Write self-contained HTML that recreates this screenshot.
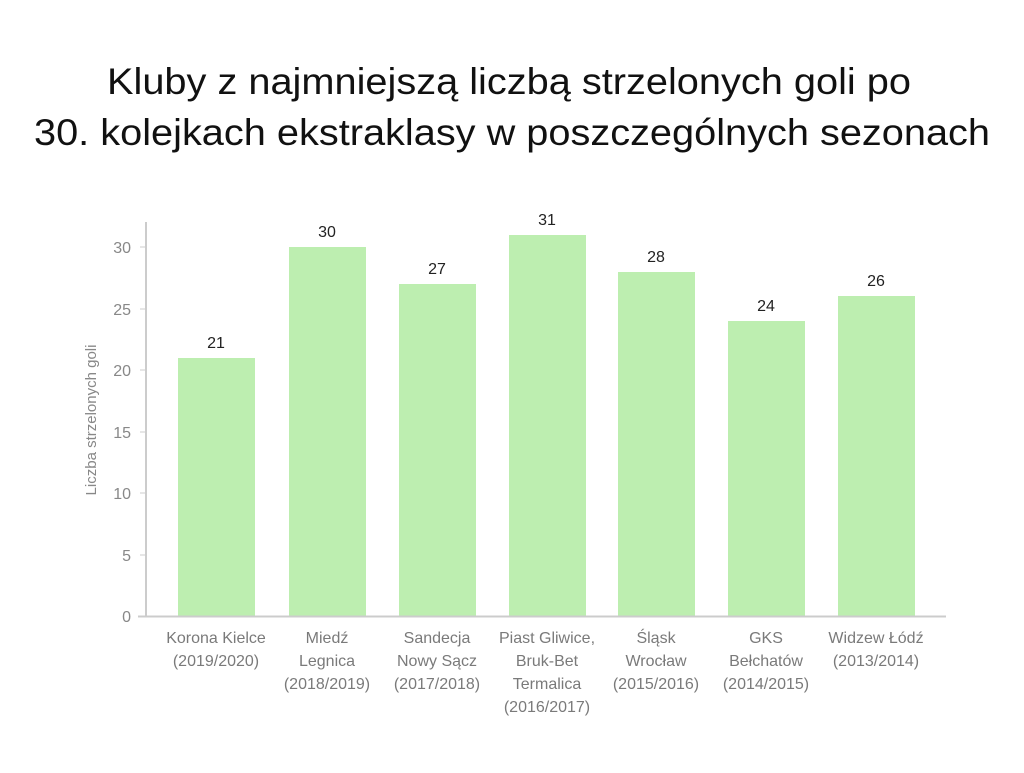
<!DOCTYPE html>
<html><head><meta charset="utf-8"><style>
body{margin:0;background:#fff;width:1024px;height:768px;overflow:hidden;font-family:"Liberation Sans",sans-serif}
</style></head><body>
<svg width="1024" height="768" xmlns="http://www.w3.org/2000/svg" font-family="Liberation Sans, sans-serif">
<text x="509" y="94" font-size="37" text-anchor="middle" fill="#111" textLength="804" lengthAdjust="spacingAndGlyphs">Kluby z najmniejszą liczbą strzelonych goli po</text>
<text x="512" y="145" font-size="37" text-anchor="middle" fill="#111" textLength="956" lengthAdjust="spacingAndGlyphs">30. kolejkach ekstraklasy w poszczególnych sezonach</text>
<g font-size="16" fill="#888" text-anchor="end">
<text x="131" y="622">0</text><text x="131" y="561">5</text><text x="131" y="499">10</text>
<text x="131" y="438">15</text><text x="131" y="376">20</text><text x="131" y="315">25</text><text x="131" y="253">30</text>
</g>
<g stroke="#ccc" stroke-width="1"><line x1="140" y1="616" x2="146" y2="616"/><line x1="140" y1="555" x2="146" y2="555"/><line x1="140" y1="493" x2="146" y2="493"/><line x1="140" y1="432" x2="146" y2="432"/><line x1="140" y1="370" x2="146" y2="370"/><line x1="140" y1="309" x2="146" y2="309"/><line x1="140" y1="247" x2="146" y2="247"/></g>
<text transform="translate(96,420) rotate(-90)" font-size="15" fill="#888" text-anchor="middle">Liczba strzelonych goli</text>
<g fill="#bdeeb0">
<rect x="178" y="358" width="77" height="258"/>
<rect x="289" y="247" width="77" height="369"/>
<rect x="399" y="284" width="77" height="332"/>
<rect x="509" y="235" width="77" height="381"/>
<rect x="618" y="272" width="77" height="344"/>
<rect x="728" y="321" width="77" height="295"/>
<rect x="838" y="296" width="77" height="320"/>
</g>
<line x1="146" y1="222" x2="146" y2="617" stroke="#ccc" stroke-width="2"/>
<line x1="138" y1="616.5" x2="946" y2="616.5" stroke="#ccc" stroke-width="2"/>
<g font-size="16" fill="#222" text-anchor="middle">
<text x="216" y="348">21</text><text x="327" y="237">30</text><text x="437" y="274">27</text><text x="547" y="225">31</text><text x="656" y="262">28</text><text x="766" y="311">24</text><text x="876" y="286">26</text>
</g>
<g font-size="16" fill="#7a7a7a" text-anchor="middle">
<text x="216" y="643">Korona Kielce</text><text x="216" y="666">(2019/2020)</text>
<text x="327" y="643">Miedź</text><text x="327" y="666">Legnica</text><text x="327" y="689">(2018/2019)</text>
<text x="437" y="643">Sandecja</text><text x="437" y="666">Nowy Sącz</text><text x="437" y="689">(2017/2018)</text>
<text x="547" y="643">Piast Gliwice,</text><text x="547" y="666">Bruk-Bet</text><text x="547" y="689">Termalica</text><text x="547" y="712">(2016/2017)</text>
<text x="656" y="643">Śląsk</text><text x="656" y="666">Wrocław</text><text x="656" y="689">(2015/2016)</text>
<text x="766" y="643">GKS</text><text x="766" y="666">Bełchatów</text><text x="766" y="689">(2014/2015)</text>
<text x="876" y="643">Widzew Łódź</text><text x="876" y="666">(2013/2014)</text>
</g>
</svg>
</body></html>
